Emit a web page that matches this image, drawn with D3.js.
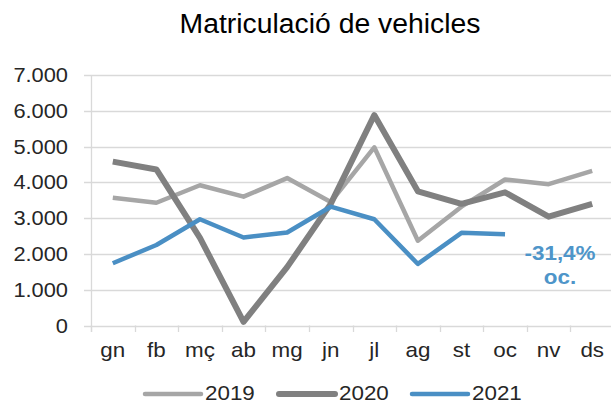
<!DOCTYPE html>
<html>
<head>
<meta charset="utf-8">
<script src="https://cdn.jsdelivr.net/npm/d3@7"></script>
<style>
  html,body{margin:0;padding:0;background:#fff;}
  svg text{font-family:"Liberation Sans",Arial,sans-serif;}
</style>
</head>
<body>
<svg id="chart" width="611" height="403"></svg>
<script>
const months = ['gn','fb','mç','ab','mg','jn','jl','ag','st','oc','nv','ds'];
const yTicks = [0,1000,2000,3000,4000,5000,6000,7000];
const v2019 = [3570,3430,3920,3600,4120,3450,4980,2370,3320,4080,3950,4320];
const v2020 = [4580,4360,2450,100,1630,3400,5880,3750,3400,3720,3040,3400];
const v2021 = [1740,2250,2970,2460,2600,3320,2970,1720,2590,2550];
const seriesNames = ['2019','2020','2021'];
const colors = ['#a6a6a6','#808080','#4a8fc4'];
const widths = [4.5,6,4.5];

const svg = d3.select('#chart');
const stretch = 1.12; // text looks a bit wider than Arial

// places a horizontally stretched text
function stext(g,x,y,txt,size,anchor,opts){
  opts=opts||{};
  const t = g.append('text')
    .attr('transform',`translate(${x},${y}) scale(${opts.sx||stretch},1)`)
    .attr('text-anchor',anchor)
    .style('font-size',size+'px')
    .style('fill',opts.fill||'#000')
    .text(txt);
  if(opts.bold)t.style('font-weight','bold');
  return t;
}

const x = d3.scaleBand().domain(months).range([91,614]);
const y = d3.scaleLinear().domain([0,7000]).range([325.5,75]);

// gridlines
svg.append('g').selectAll('line').data(yTicks).enter().append('line')
  .attr('x1',84).attr('x2',611)
  .attr('y1',d=>Math.round(y(d))+0.5).attr('y2',d=>Math.round(y(d))+0.5)
  .attr('stroke','#d9d9d9').attr('stroke-width',1.3);

// axes
svg.append('line').attr('x1',91.5).attr('x2',91.5).attr('y1',y(7000)).attr('y2',332)
  .attr('stroke','#d9d9d9').attr('stroke-width',1.3);
const xt = months.map((m,i)=>x(m)).concat([x.range()[1]]);
svg.append('g').selectAll('line').data(xt).enter().append('line')
  .attr('x1',d=>Math.round(d)+0.5).attr('x2',d=>Math.round(d)+0.5)
  .attr('y1',y(0)).attr('y2',332)
  .attr('stroke','#d9d9d9').attr('stroke-width',1.3);

// y labels
const fmt = d=>d3.format(',')(d).replace(/,/g,'.');
yTicks.forEach(d=>stext(svg,68,y(d)+7,fmt(d),19.5,'end',{fill:'#262626'}));
// x labels
months.forEach(m=>stext(svg,x(m)+x.bandwidth()/2,357,m,20,'middle',{fill:'#262626'}));

// lines
const line = d3.line().x((d,i)=>x(months[i])+x.bandwidth()/2).y(d=>y(d));
[v2019,v2020,v2021].forEach((s,i)=>{
  svg.append('path').datum(s).attr('d',line)
    .attr('fill','none').attr('stroke',colors[i]).attr('stroke-width',widths[i])
    .attr('stroke-linejoin','round');
});

// title
stext(svg,330,33,'Matriculació de vehicles',27,'middle',{sx:1.05,fill:'#000'});

// annotation
stext(svg,560,260,'-31,4%',19.5,'middle',{fill:'#4e95c9',bold:true,sx:1.15});
stext(svg,560,284,'oc.',19.5,'middle',{fill:'#4e95c9',bold:true,sx:1.15});

// legend
const legX = [143,277,410];
seriesNames.forEach((n,i)=>{
  svg.append('line').attr('x1',legX[i]+2).attr('x2',legX[i]+58).attr('y1',394).attr('y2',394)
    .attr('stroke',colors[i]).attr('stroke-width',widths[i]).attr('stroke-linecap','round');
  stext(svg,legX[i]+62,400,n,20,'start',{fill:'#262626'});
});
</script>
</body>
</html>
